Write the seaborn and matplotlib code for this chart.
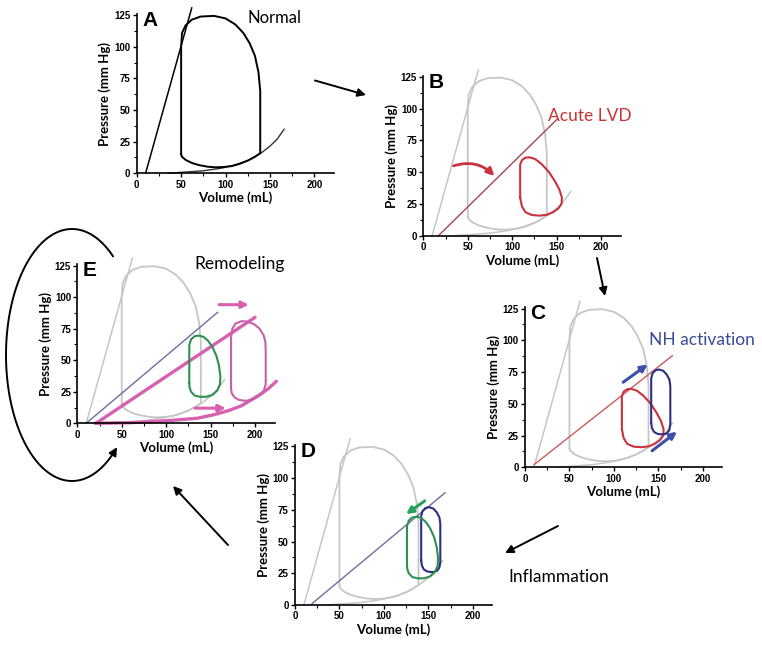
import numpy as np
import matplotlib
matplotlib.use("Agg")
import matplotlib.pyplot as plt
from matplotlib.patches import FancyArrowPatch
from matplotlib.path import Path
import seaborn as sns

# --- axes ticks
vol_ticks = [0, 50, 100, 150, 200]
pres_ticks = [0, 25, 50, 75, 100, 125]

# --- normal pressure-volume loop (mL, mm Hg)
normal_v = [50, 50, 50, 51, 55, 62, 72, 87, 100, 111, 120, 127, 133, 137, 139, 139, 139,
            133, 126, 116, 107, 98, 89, 80, 70, 62, 55.5, 51, 50]
normal_p = [15, 60, 100, 111, 117, 121.5, 124, 124.5, 122.5, 117.7, 111, 103, 93, 80, 65, 40, 16,
            13, 10.4, 7.5, 5.7, 5, 4.7, 5.2, 6.5, 8.2, 10.4, 13, 15]

# end-systolic and end-diastolic relations
espvr_v = [10, 62]
espvr_p = [0, 131]
edpvr_v = [35, 55, 75, 95, 110, 125, 140, 150, 158, 166]
edpvr_p = [0, 1, 2, 4, 6.5, 10, 16, 21.5, 27, 35]

# --- acute LV dysfunction (red)
acute_v = [109, 109, 111, 115, 120, 126, 133, 141, 148, 153, 156, 155.5, 152, 146, 139, 131,
           122, 115, 111, 109]
acute_p = [30, 56, 59.5, 61.5, 61.7, 60.3, 56.5, 50.5, 43, 36.5, 30, 25, 21.5, 18.5, 16.5, 15.8,
           16.3, 18.5, 23, 30]
acute_line_b_v = [17, 151]
acute_line_b_p = [0, 92]
acute_line_c_v = [10, 166]
acute_line_c_p = [2, 88]

# --- neurohormonal activation (blue)
nh_v = [142, 142, 143.5, 147, 151, 155.5, 159.5, 162.5, 163.5, 163.5, 162.5, 160, 156.5, 152.5,
        148.5, 145, 142.8, 142]
nh_p = [35, 70, 74, 76.5, 77, 76, 73, 69, 64, 34, 29.5, 27, 26, 26, 26.5, 28, 31, 35]

# --- inflammation (green)
infl_v = [126, 126, 128, 132, 137, 142, 147, 152, 156.5, 159.5, 161, 160.5, 157.5, 152, 145, 138,
          132, 128, 126.3, 126]
infl_p = [32, 62, 66.5, 69, 69.5, 68.5, 65.5, 60.5, 53.5, 45.5, 37, 31, 26, 22.5, 21, 21,
          22, 25, 28.5, 32]
infl_line_d_v = [19, 169]
infl_line_d_p = [1, 88.5]
infl_line_e_v = [10, 158]
infl_line_e_p = [0, 88]

# --- remodeling (pink)
remod_v = [173, 173, 174.5, 178, 185, 192, 199, 205, 209.5, 211.5, 212, 212, 210, 205, 198, 190,
           182, 177, 174, 173]
remod_p = [27, 68, 75, 79, 81, 80.5, 78.5, 75, 70, 65, 58, 31, 26, 22, 19, 17.8, 18.5, 20.5, 23.5, 27]
remod_line_v = [21, 200]
remod_line_p = [0, 84]
remod_edpvr_v = [20, 60, 100, 135, 155, 172, 185, 195, 205, 215, 224]
remod_edpvr_p = [0, 0.5, 2, 4, 7, 10.5, 14, 18.3, 22.5, 27.5, 33.3]

# colours
GREY = "#c6c6c6"
RED = "#c8323c"
NAVY = "#2b2f82"
BLUE_ARR = "#3d4fa8"
GREEN = "#2f8f4e"
SLATE = "#6b6f9e"
PINK = "#d860b0"

sns.set_style("ticks")
plt.rcParams["font.family"] = ["Lato", "DejaVu Sans"]
plt.rcParams.update({"text.color": "black", "axes.labelcolor": "black",
                     "xtick.color": "black", "ytick.color": "black",
                     "axes.edgecolor": "black"})

W, H = 762, 645
fig = plt.figure(figsize=(W / 100, H / 100), dpi=100)


def px_axes(left, top, right, bottom):
    # axes rectangle given in picture pixels (origin top-left)
    return fig.add_axes([left / W, 1 - bottom / H, (right - left) / W, (bottom - top) / H])


def line(ax, v, p, color, lw=1.3, z=2, clip=False):
    sns.lineplot(x=v, y=p, ax=ax, sort=False, estimator=None, color=color,
                 linewidth=lw, zorder=z, clip_on=clip)


def setup(ax, letter):
    ax.set_xlim(0, 222)
    ax.set_ylim(0, 126)
    ax.set_xticks(vol_ticks)
    ax.set_xticks(np.arange(25, 222, 50), minor=True)
    ax.set_yticks(pres_ticks)
    ax.set_yticks(np.arange(12.5, 126, 25), minor=True)
    sns.despine(ax=ax)
    for s in ["left", "bottom"]:
        ax.spines[s].set_linewidth(1.2)
    ax.tick_params(which="major", length=3, width=1, labelsize=7, pad=1.5)
    ax.tick_params(which="minor", length=2, width=0.8)
    for t in ax.get_xticklabels() + ax.get_yticklabels():
        t.set_fontweight("bold")
        t.set_family(["Liberation Sans", "DejaVu Sans"])
    ax.set_xlabel("Volume (mL)", fontsize=9.5, fontweight="bold", labelpad=1.5)
    ax.set_ylabel("Pressure (mm Hg)", fontsize=9.5, fontweight="bold", labelpad=2)
    ax.text(6, 128.5, letter, fontsize=15, fontweight="bold", va="top", ha="left",
            family=["Liberation Sans", "DejaVu Sans"])
    ax.patch.set_alpha(0)


def grey_normal(ax):
    line(ax, espvr_v, espvr_p, GREY, lw=1.1, z=1)
    line(ax, edpvr_v, edpvr_p, GREY, lw=1.1, z=1)
    line(ax, normal_v, normal_p, GREY, lw=1.3, z=1)


def arrow(ax, start, end, color, lw=2.0, ms=10, rad=0.0):
    ax.annotate("", xy=end, xytext=start, annotation_clip=False,
                arrowprops=dict(arrowstyle="-|>", color=color, lw=lw, mutation_scale=ms,
                                shrinkA=0, shrinkB=0,
                                connectionstyle=f"arc3,rad={rad}"))


# ---------------- A: normal
axA = px_axes(136.7, 14, 334, 173.3)
line(axA, espvr_v, espvr_p, "black", lw=1.1)
line(axA, edpvr_v, edpvr_p, "#333333", lw=1.0)
line(axA, normal_v, normal_p, "black", lw=1.4)
axA.text(155, 123, "Normal", fontsize=12, ha="center", va="center")
setup(axA, "A")

# ---------------- B: acute LVD
axB = px_axes(423.3, 75.7, 620.6, 235.7)
grey_normal(axB)
line(axB, acute_line_b_v, acute_line_b_p, "#a84452", lw=1.0)
line(axB, acute_v, acute_p, RED, lw=1.5)
axB.text(187, 94, "Acute LVD", fontsize=12.5, color="#cc3333", ha="center", va="center")
arrow(axB, (34, 55), (80, 47), "#c8323c", lw=2.0, ms=11, rad=-0.3)
setup(axB, "B")

# ---------------- C: neurohormonal activation
axC = px_axes(525, 307.3, 722.3, 467.3)
grey_normal(axC)
line(axC, acute_line_c_v, acute_line_c_p, "#cc5a5a", lw=1.0)
line(axC, acute_v, acute_p, RED, lw=1.5)
line(axC, nh_v, nh_p, NAVY, lw=1.5)
axC.text(199, 100.6, "NH activation", fontsize=12.5, color="#3a4a9a", ha="center", va="center")
arrow(axC, (110.5, 67), (138, 81), BLUE_ARR, lw=2.2)
arrow(axC, (143, 13), (171, 28), BLUE_ARR, lw=2.2)
setup(axC, "C")

# ---------------- D: inflammation
axD = px_axes(295, 445, 492.3, 605)
grey_normal(axD)
line(axD, infl_line_d_v, infl_line_d_p, SLATE, lw=1.0)
line(axD, nh_v, nh_p, NAVY, lw=1.5)
line(axD, infl_v, infl_p, GREEN, lw=1.5)
arrow(axD, (146, 82), (125, 71.5), "#2aa060", lw=2.2)
axD.text(297, 22, "Inflammation", fontsize=12.5, ha="center", va="center")
setup(axD, "D")

# ---------------- E: remodeling
axE = px_axes(77.3, 264.3, 274.6, 423.3)
grey_normal(axE)
line(axE, infl_line_e_v, infl_line_e_p, SLATE, lw=1.0)
line(axE, remod_line_v, remod_line_p, PINK, lw=2.4)
line(axE, remod_edpvr_v, remod_edpvr_p, PINK, lw=2.4)
line(axE, infl_v, infl_p, GREEN, lw=1.5)
line(axE, remod_v, remod_p, "#c860a8", lw=1.5)
arrow(axE, (159.5, 94), (193, 94), PINK, lw=2.2)
arrow(axE, (132.5, 12), (167, 12), PINK, lw=2.2)
axE.text(183, 126.5, "Remodeling", fontsize=12.5, ha="center", va="center")
setup(axE, "E")


# ---------------- arrows between the panels (picture pixels, origin top-left)
def fig_arrow(p0, p1):
    a = FancyArrowPatch((p0[0] / W, 1 - p0[1] / H), (p1[0] / W, 1 - p1[1] / H),
                        transform=fig.transFigure, arrowstyle="-|>", mutation_scale=12,
                        lw=1.4, color="black", shrinkA=0, shrinkB=0)
    fig.add_artist(a)


fig_arrow((315, 80.5), (366, 95))
fig_arrow((597, 258), (605, 296))
fig_arrow((558, 526), (505, 553))
fig_arrow((228, 545), (173, 486))

# big loop arrow round panel E
t = np.radians(np.linspace(51.5, 313, 120))
cx, cy, a, b = 72, 290, 66, 126
verts = np.column_stack([(cx + a * np.cos(t)) / W, (cy + b * np.sin(t)) / H])
loop = FancyArrowPatch(path=Path(verts), transform=fig.transFigure, arrowstyle="-|>",
                       mutation_scale=12, lw=1.4, color="black")
fig.add_artist(loop)

fig.savefig("out.png", dpi=100)
